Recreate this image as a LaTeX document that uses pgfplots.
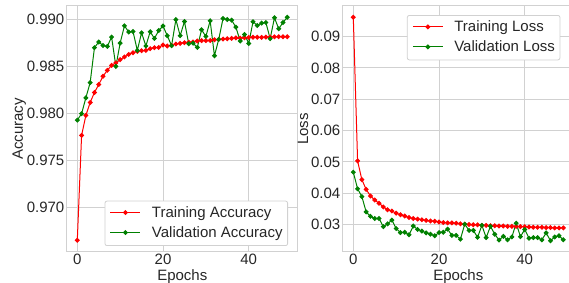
\documentclass[border=0pt]{standalone}
\usepackage{pgfplots}
\pgfplotsset{compat=1.18}
\usepackage{fontspec}
\setmainfont{Liberation Sans}
\definecolor{gridc}{gray}{0.82}
\definecolor{txt}{gray}{0.15}
\definecolor{mplred}{RGB}{255,0,0}
\definecolor{mplgreen}{RGB}{0,128,0}

\pgfplotstableread{
e v
0 0.96655
1 0.97767
2 0.97979
3 0.98116
4 0.98222
5 0.98306
6 0.98394
7 0.98457
8 0.98510
9 0.98535
10 0.98570
11 0.98599
12 0.98626
13 0.98644
14 0.98658
15 0.98665
16 0.98668
17 0.98686
18 0.98697
19 0.98700
20 0.98725
21 0.98715
22 0.98721
23 0.98736
24 0.98742
25 0.98750
26 0.98754
27 0.98757
28 0.98768
29 0.98772
30 0.98772
31 0.98773
32 0.98781
33 0.98785
34 0.98788
35 0.98792
36 0.98796
37 0.98800
38 0.98798
39 0.98802
40 0.98806
41 0.98807
42 0.98808
43 0.98806
44 0.98810
45 0.98810
46 0.98812
47 0.98814
48 0.98813
49 0.98813
}\trainacc

\pgfplotstableread{
e v
0 0.97929
1 0.97997
2 0.98166
3 0.98327
4 0.98697
5 0.98757
6 0.98721
7 0.98711
8 0.98810
9 0.98500
10 0.98746
11 0.98929
12 0.98863
13 0.98869
14 0.98668
15 0.98855
16 0.98715
17 0.98866
18 0.98795
19 0.98880
20 0.98926
21 0.98824
22 0.98718
23 0.98995
24 0.98824
25 0.98975
26 0.98739
27 0.98745
28 0.98700
29 0.98887
30 0.98816
31 0.98982
32 0.98612
33 0.98785
34 0.99006
35 0.98996
36 0.98989
37 0.98915
38 0.98768
39 0.98837
40 0.98742
41 0.98972
42 0.98932
43 0.98958
44 0.98964
45 0.98792
46 0.99014
47 0.98898
48 0.98964
49 0.99020
}\valacc

\pgfplotstableread{
e v
0 0.0962
1 0.0503
2 0.0443
3 0.0412
4 0.0391
5 0.0378
6 0.0368
7 0.0356
8 0.0347
9 0.0343
10 0.0336
11 0.0331
12 0.0327
13 0.0322
14 0.0319
15 0.0317
16 0.0315
17 0.0313
18 0.0311
19 0.0310
20 0.0308
21 0.0306
22 0.0305
23 0.0305
24 0.0304
25 0.0302
26 0.0301
27 0.0300
28 0.0299
29 0.0299
30 0.0297
31 0.0297
32 0.0296
33 0.0296
34 0.0295
35 0.0295
36 0.0294
37 0.0294
38 0.0294
39 0.0293
40 0.0293
41 0.0292
42 0.0291
43 0.0291
44 0.0291
45 0.0290
46 0.0290
47 0.0289
48 0.0289
49 0.0289
}\trainloss

\pgfplotstableread{
e v
0 0.0467
1 0.0414
2 0.0389
3 0.0340
4 0.0326
5 0.0319
6 0.0319
7 0.0293
8 0.0302
9 0.0314
10 0.0287
11 0.0274
12 0.0275
13 0.0267
14 0.0295
15 0.0284
16 0.0279
17 0.0273
18 0.0269
19 0.0264
20 0.0274
21 0.0275
22 0.0285
23 0.0265
24 0.0265
25 0.0253
26 0.0301
27 0.0281
28 0.0281
29 0.0259
30 0.0297
31 0.0258
32 0.0294
33 0.0269
34 0.0250
35 0.0262
36 0.0251
37 0.0260
38 0.0304
39 0.0261
40 0.0284
41 0.0256
42 0.0258
43 0.0258
44 0.0251
45 0.0273
46 0.0248
47 0.0260
48 0.0264
49 0.0251
}\valloss

\pgfplotsset{
  mystyle/.style={
    scale only axis, width=231pt, height=246pt,
    anchor=south west,
    axis line style={gridc, line width=1pt},
    grid=major, major grid style={gridc, line width=1pt},
    major tick length=0pt, tick style={draw=none},
    xmin=-2.45, xmax=51.45, xtick={0,20,40},
    scaled ticks=false,
    /pgf/number format/assume math mode=true,
    tick label style={font=\fontsize{15}{18}\selectfont, text=txt, inner sep=0pt},
    xticklabel shift=2.3pt, yticklabel shift=2.3pt,
    every axis x label/.style={at={([yshift=-28.7pt]axis description cs:0.5,0)}, anchor=base, font=\fontsize{15}{18}\selectfont, text=txt, inner sep=0pt},
    every axis y label/.style={rotate=90, anchor=base, font=\fontsize{15}{18}\selectfont, text=txt, inner sep=0pt},
    legend style={draw=gridc, line width=0.8pt, rounded corners=2pt, fill=white,
      font=\fontsize{15}{18}\selectfont, text=txt,
      inner xsep=5pt, inner ysep=5pt, row sep=5.5pt, column sep=11pt,
      nodes={inner sep=0pt, text height=11pt, text depth=3.5pt, anchor=base west}},
    legend cell align=left,
    legend image code/.code={\draw[mark repeat=2,mark phase=2,#1] plot coordinates {(0pt,4.5pt) (15pt,4.5pt) (30pt,4.5pt)};},
    every axis plot/.append style={line width=1pt, mark=*, mark size=1.9pt},
  }
}

\begin{document}
\begin{tikzpicture}
\path[use as bounding box] (0pt,0pt) rectangle (569pt,283pt);
\begin{axis}[mystyle, at={(66.8pt,31pt)},
  ymin=0.96531, ymax=0.99139,
  ytick={0.970,0.975,0.980,0.985,0.990},
  yticklabel style={/pgf/number format/.cd, fixed, fixed zerofill, precision=3},
  xlabel={Epochs}, ylabel={Accuracy},
  ylabel style={at={([xshift=-44pt]axis description cs:0,0.5)}},
  legend style={at={(axis description cs:0.9576,0.0244)}, anchor=south east},
]
\addplot[mplred, mark options={mplred}] table[x=e,y=v] {\trainacc};
\addlegendentry{Training Accuracy}
\addplot[mplgreen, mark options={mplgreen}] table[x=e,y=v] {\valacc};
\addlegendentry{Validation Accuracy}
\end{axis}
\begin{axis}[mystyle, at={(342.8pt,31pt)},
  ymin=0.0212, ymax=0.0998,
  ytick={0.03,0.04,0.05,0.06,0.07,0.08,0.09},
  yticklabel style={/pgf/number format/.cd, fixed, fixed zerofill, precision=2},
  xlabel={Epochs}, ylabel={Loss},
  ylabel style={at={([xshift=-34.8pt]axis description cs:0,0.5)}},
  legend style={at={(axis description cs:0.9417,0.9634)}, anchor=north east},
]
\addplot[mplred, mark options={mplred}] table[x=e,y=v] {\trainloss};
\addlegendentry{Training Loss}
\addplot[mplgreen, mark options={mplgreen}] table[x=e,y=v] {\valloss};
\addlegendentry{Validation Loss}
\end{axis}
\end{tikzpicture}
\end{document}
